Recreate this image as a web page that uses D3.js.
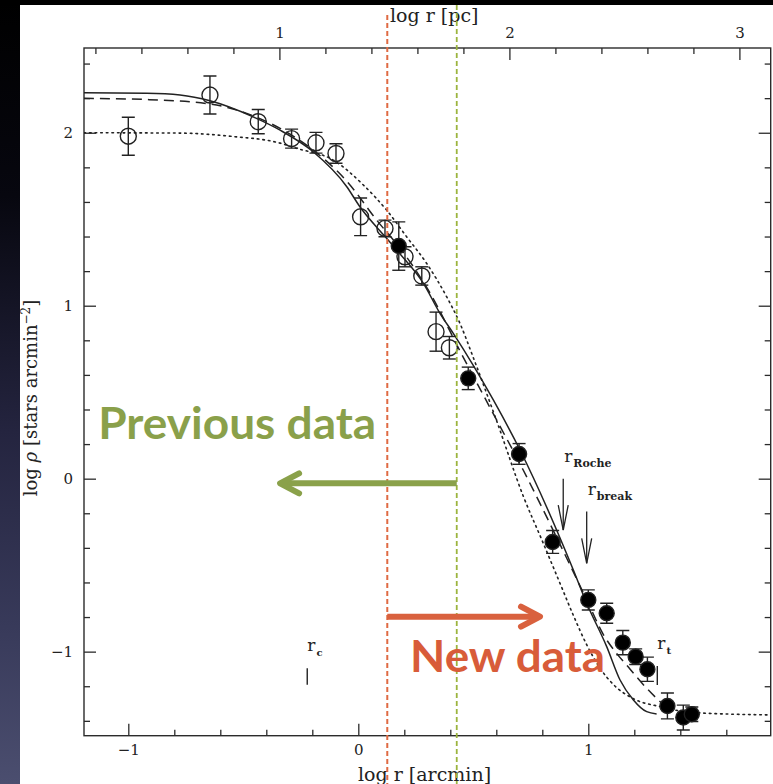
<!DOCTYPE html>
<html>
<head>
<meta charset="utf-8">
<script src="https://cdn.jsdelivr.net/npm/d3@7"></script>
<style>
  html, body { margin: 0; padding: 0; background: #fff; }
  svg { display: block; }
</style>
</head>
<body>
<svg id="chart" width="773" height="784"></svg>
<script>
// ---------------- data ----------------
// previous data (open circles): log r [arcmin], log rho, error
const prevX   = [-1.0, -0.645, -0.435, -0.29, -0.184, -0.097, 0.01, 0.116, 0.203, 0.276, 0.338, 0.396];
const prevY   = [1.98, 2.218, 2.064, 1.966, 1.942, 1.88, 1.514, 1.447, 1.283, 1.172, 0.85, 0.757];
const prevErr = [0.11, 0.11, 0.07, 0.055, 0.06, 0.056, 0.109, 0.048, 0.058, 0.053, 0.113, 0.065];

// new data (filled circles)
const newX   = [0.176, 0.478, 0.699, 0.845, 1.0, 1.08, 1.15, 1.206, 1.257, 1.344, 1.413, 1.45];
const newY   = [1.345, 0.58, 0.143, -0.366, -0.701, -0.778, -0.948, -1.029, -1.102, -1.314, -1.381, -1.362];
const newErr = [0.14, 0.065, 0.06, 0.066, 0.058, 0.058, 0.07, 0.045, 0.07, 0.075, 0.072, 0.042];

// model curves
const solidX = [-1.193, -0.92, -0.775, -0.645, -0.457, -0.34, -0.196, -0.05, 0.007, 0.123, 0.181, 0.283, 0.355, 0.413, 0.587, 0.703, 0.935, 0.993, 1.08, 1.138, 1.196, 1.254, 1.297];
const solidY = [2.231, 2.228, 2.218, 2.185, 2.092, 2.015, 1.89, 1.688, 1.572, 1.39, 1.30, 1.129, 0.956, 0.84, 0.455, 0.166, -0.528, -0.72, -0.971, -1.164, -1.279, -1.347, -1.36];

const dashX = [-1.193, -0.92, -0.645, -0.485, -0.34, -0.196, -0.05, 0.08, 0.2, 0.3, 0.457, 0.573, 0.717, 0.848, 1.0, 1.065, 1.123, 1.181, 1.232, 1.297, 1.33, 1.36];
const dashY = [2.199, 2.192, 2.166, 2.112, 2.025, 1.9, 1.72, 1.495, 1.30, 1.10, 0.70, 0.41, 0.05, -0.3, -0.72, -0.9, -1.01, -1.10, -1.18, -1.27, -1.31, -1.335];

const dotX = [-1.193, -0.775, -0.558, -0.34, -0.268, -0.109, 0.022, 0.123, 0.21, 0.297, 0.384, 0.442, 0.5, 0.6, 0.717, 0.8, 0.877, 0.935, 0.993, 1.051, 1.109, 1.196, 1.312, 1.457, 1.793];
const dotY = [2.0, 1.998, 1.98, 1.94, 1.91, 1.842, 1.698, 1.553, 1.399, 1.245, 1.052, 0.898, 0.70, 0.34, -0.10, -0.36, -0.605, -0.79, -0.96, -1.095, -1.19, -1.272, -1.318, -1.352, -1.366];

// ticks
const arcMajor = [-1, 0, 1];
const arcMinor = [-0.8, -0.6, -0.4, -0.2, 0.2, 0.4, 0.6, 0.8, 1.2, 1.4, 1.6];
const pcMajor  = [1, 2, 3];
const pcMinor  = [0.2, 0.4, 0.6, 0.8, 1.2, 1.4, 1.6, 1.8, 2.2, 2.4, 2.6, 2.8];
const rhoMajor = [-1, 0, 1, 2];
const rhoMinor = [-1.4, -1.2, -0.8, -0.6, -0.4, -0.2, 0.2, 0.4, 0.6, 0.8, 1.2, 1.4, 1.6, 1.8, 2.2, 2.4];
const pcOffset = 1.343;

// annotation positions (log r [arcmin])
const radiusNames = ["Roche", "break"];
const radiusX     = [0.891, 0.993];
const radiusTop   = [0.0, -0.19];
const radiusBot   = [-0.297, -0.489];
const tickNames   = ["c", "t"];
const tickX       = [-0.222, 1.30];
const tickTop     = [-1.096, -1.083];
const tickBot     = [-1.192, -1.193];

// slide overlays
const boundaryX = [0.126, 0.428];   // red (new), green (previous)

// ---------------- drawing ----------------
const svg = d3.select("#chart");
const W = 773, H = 784;
const L = 84, R = 770.7, T = 48, B = 735.7;

const x = d3.scaleLinear().domain([(L - 358.3) / 230, (R - 358.3) / 230]).range([L, R]);
const xpc = d3.scaleLinear().domain(x.domain().map(d => d + pcOffset)).range([L, R]);
const y = d3.scaleLinear().domain([-1.486, 2.49]).range([B, T]);

// slide background
const defs = svg.append("defs");
const grad = defs.append("linearGradient").attr("id", "side").attr("x1", 0).attr("y1", 0).attr("x2", 0).attr("y2", 1);
[[0, "#000000"], [0.25, "#07070f"], [0.55, "#24243f"], [0.8, "#383a5a"], [1, "#4b4e6f"]]
  .forEach(([o, c]) => grad.append("stop").attr("offset", o).attr("stop-color", c));
svg.append("rect").attr("width", W).attr("height", H).attr("fill", "#fff");
svg.append("rect").attr("x", 0).attr("y", 0).attr("width", 20).attr("height", H).attr("fill", "url(#side)");
svg.append("rect").attr("x", 0).attr("y", 0).attr("width", W).attr("height", 5).attr("fill", "#000");

defs.append("clipPath").attr("id", "plotclip")
  .append("rect").attr("x", L).attr("y", T).attr("width", R - L).attr("height", B - T);

const ink = "#2b2b2b";
const serif = "'DejaVu Serif', 'Liberation Serif', serif";

// axes
function styleAxis(g, labels) {
  g.select(".domain").remove();
  g.selectAll(".tick line").attr("stroke", ink).attr("stroke-width", 1.3);
  g.selectAll(".tick text").attr("font-family", serif).attr("font-size", 15).attr("fill", "#222");
  if (!labels) g.selectAll(".tick text").remove();
}
const fmt = d3.format("d");
svg.append("g").attr("transform", `translate(0,${B})`)
  .call(d3.axisBottom(x).tickValues(arcMinor).tickSize(-6)).call(g => styleAxis(g, false));
svg.append("g").attr("transform", `translate(0,${B})`)
  .call(d3.axisBottom(x).tickValues(arcMajor).tickSize(-12).tickPadding(9).tickFormat(fmt)).call(g => styleAxis(g, true));
svg.append("g").attr("transform", `translate(0,${T})`)
  .call(d3.axisTop(xpc).tickValues(pcMinor).tickSize(-6)).call(g => styleAxis(g, false));
svg.append("g").attr("transform", `translate(0,${T})`)
  .call(d3.axisTop(xpc).tickValues(pcMajor).tickSize(-12).tickPadding(10).tickFormat(fmt)).call(g => styleAxis(g, true));
svg.append("g").attr("transform", `translate(${L},0)`)
  .call(d3.axisLeft(y).tickValues(rhoMinor).tickSize(-6)).call(g => styleAxis(g, false));
svg.append("g").attr("transform", `translate(${L},0)`)
  .call(d3.axisLeft(y).tickValues(rhoMajor).tickSize(-12).tickPadding(11).tickFormat(fmt)).call(g => styleAxis(g, true));
svg.append("g").attr("transform", `translate(${R},0)`)
  .call(d3.axisRight(y).tickValues(rhoMinor).tickSize(-6)).call(g => styleAxis(g, false));
svg.append("g").attr("transform", `translate(${R},0)`)
  .call(d3.axisRight(y).tickValues(rhoMajor).tickSize(-12)).call(g => styleAxis(g, false));

// frame
svg.append("rect").attr("x", L).attr("y", T).attr("width", R - L).attr("height", B - T)
  .attr("fill", "none").attr("stroke", ink).attr("stroke-width", 1.4);

// axis titles
svg.append("text").attr("x", 390).attr("y", 22).attr("font-family", serif).attr("font-size", 19)
  .attr("fill", "#222").text("log r [pc]");
svg.append("text").attr("x", 358).attr("y", 781).attr("font-family", serif).attr("font-size", 19)
  .attr("fill", "#222").text("log r [arcmin]");
const yl = svg.append("text").attr("transform", "translate(37,398) rotate(-90)")
  .attr("text-anchor", "middle").attr("font-family", serif).attr("font-size", 18).attr("fill", "#222");
yl.append("tspan").text("log ");
yl.append("tspan").attr("font-style", "italic").text("ρ");
yl.append("tspan").text(" [stars arcmin");
yl.append("tspan").attr("font-size", 12).attr("dy", -7).text("−2");
yl.append("tspan").attr("dy", 7).text("]");

// curves
const plot = svg.append("g").attr("clip-path", "url(#plotclip)");
const line = d3.line().x(d => x(d[0])).y(d => y(d[1])).curve(d3.curveMonotoneX);
const zip = (a, b) => a.map((v, i) => [v, b[i]]);
plot.append("path").attr("d", line(zip(dotX, dotY))).attr("fill", "none")
  .attr("stroke", "#222").attr("stroke-width", 1.6).attr("stroke-dasharray", "1.6,4").attr("stroke-linecap", "round");
plot.append("path").attr("d", line(zip(dashX, dashY))).attr("fill", "none")
  .attr("stroke", "#222").attr("stroke-width", 1.5).attr("stroke-dasharray", "10,6");
plot.append("path").attr("d", line(zip(solidX, solidY))).attr("fill", "none")
  .attr("stroke", "#222").attr("stroke-width", 1.5);

// error bars + points
function drawPoints(xs, ys, es, filled) {
  const g = plot.append("g").attr("stroke", "#222").attr("stroke-width", 1.4);
  const pts = xs.map((v, i) => ({ x: v, y: ys[i], e: es[i] }));
  g.selectAll(".eb").data(pts).join("line")
    .attr("x1", d => x(d.x)).attr("x2", d => x(d.x)).attr("y1", d => y(d.y - d.e)).attr("y2", d => y(d.y + d.e));
  g.selectAll(".ct").data(pts).join("line")
    .attr("x1", d => x(d.x) - 6.5).attr("x2", d => x(d.x) + 6.5).attr("y1", d => y(d.y + d.e)).attr("y2", d => y(d.y + d.e));
  g.selectAll(".cb").data(pts).join("line")
    .attr("x1", d => x(d.x) - 6.5).attr("x2", d => x(d.x) + 6.5).attr("y1", d => y(d.y - d.e)).attr("y2", d => y(d.y - d.e));
  g.selectAll("circle").data(pts).join("circle")
    .attr("cx", d => x(d.x)).attr("cy", d => y(d.y)).attr("r", filled ? 7.5 : 8)
    .attr("fill", filled ? "#000" : "none");
}
drawPoints(prevX, prevY, prevErr, false);
drawPoints(newX, newY, newErr, true);

// radius annotations (arrows)
radiusNames.forEach((name, i) => {
  const px = x(radiusX[i]), y0 = y(radiusTop[i]), y1 = y(radiusBot[i]);
  const g = svg.append("g").attr("stroke", "#222").attr("stroke-width", 1.3).attr("fill", "none");
  g.append("line").attr("x1", px).attr("x2", px).attr("y1", y0).attr("y2", y1);
  g.append("path").attr("d", `M${px - 5},${y1 - 25}L${px},${y1}L${px + 5},${y1 - 25}`);
  const t = svg.append("text").attr("x", px + 1).attr("y", y0 - 17).attr("font-family", serif)
    .attr("font-size", 17).attr("fill", "#222");
  t.append("tspan").text("r");
  t.append("tspan").attr("font-size", 11).attr("font-weight", "bold").attr("dy", 5).attr("dx", 1).text(name);
});
tickNames.forEach((name, i) => {
  const px = x(tickX[i]);
  svg.append("line").attr("x1", px).attr("x2", px).attr("y1", y(tickTop[i])).attr("y2", y(tickBot[i]))
    .attr("stroke", "#222").attr("stroke-width", 1.4);
  const t = svg.append("text").attr("x", px).attr("y", y(tickTop[i]) - 17).attr("font-family", serif)
    .attr("font-size", 17).attr("fill", "#222");
  t.append("tspan").text("r");
  t.append("tspan").attr("font-size", 10).attr("font-weight", "bold").attr("dy", 5).attr("dx", 1).text(name);
});

// slide overlays: boundary lines
const red = "#df6a43", green = "#9cb43e";
svg.append("line").attr("x1", x(boundaryX[0])).attr("x2", x(boundaryX[0])).attr("y1", 15).attr("y2", H)
  .attr("stroke", red).attr("stroke-width", 2).attr("stroke-dasharray", "5,3");
svg.append("line").attr("x1", x(boundaryX[1])).attr("x2", x(boundaryX[1])).attr("y1", 5).attr("y2", H)
  .attr("stroke", green).attr("stroke-width", 1.8).attr("stroke-dasharray", "5,3");

// arrows
const prevArrow = [boundaryX[1], -0.34, -0.027];
const newArrow  = [boundaryX[0], 0.79, -0.798];
const arrowG = "#8aa14a", arrowR = "#d9613e";
function bigArrow(a, color) {
  const xa = x(a[0]), xb = x(a[1]), yy = y(a[2]);
  const dir = xb > xa ? -1 : 1;
  const g = svg.append("g").attr("stroke", color).attr("stroke-width", 6).attr("fill", "none")
    .attr("stroke-linecap", "round").attr("stroke-linejoin", "round");
  g.append("line").attr("x1", xa).attr("x2", xb + dir * 2).attr("y1", yy).attr("y2", yy).attr("stroke-linecap", "butt");
  g.append("path").attr("d", `M${xb + dir * 19},${yy - 10}L${xb},${yy}L${xb + dir * 19},${yy + 10}`);
}
bigArrow(prevArrow, arrowG);
bigArrow(newArrow, arrowR);

// slide texts
const sans = "Lato, 'Open Sans', sans-serif";
svg.append("text").attr("x", x(-1.131)).attr("y", y(0.228)).attr("font-family", sans).attr("font-weight", "bold")
  .attr("font-size", 44).attr("fill", "#8aa04a").attr("textLength", 278).attr("lengthAdjust", "spacingAndGlyphs")
  .text("Previous data");
svg.append("text").attr("x", x(0.225)).attr("y", y(-1.116)).attr("font-family", sans).attr("font-weight", "bold")
  .attr("font-size", 44).attr("fill", "#d85c39").attr("textLength", 195).attr("lengthAdjust", "spacingAndGlyphs")
  .text("New data");
</script>
</body>
</html>
